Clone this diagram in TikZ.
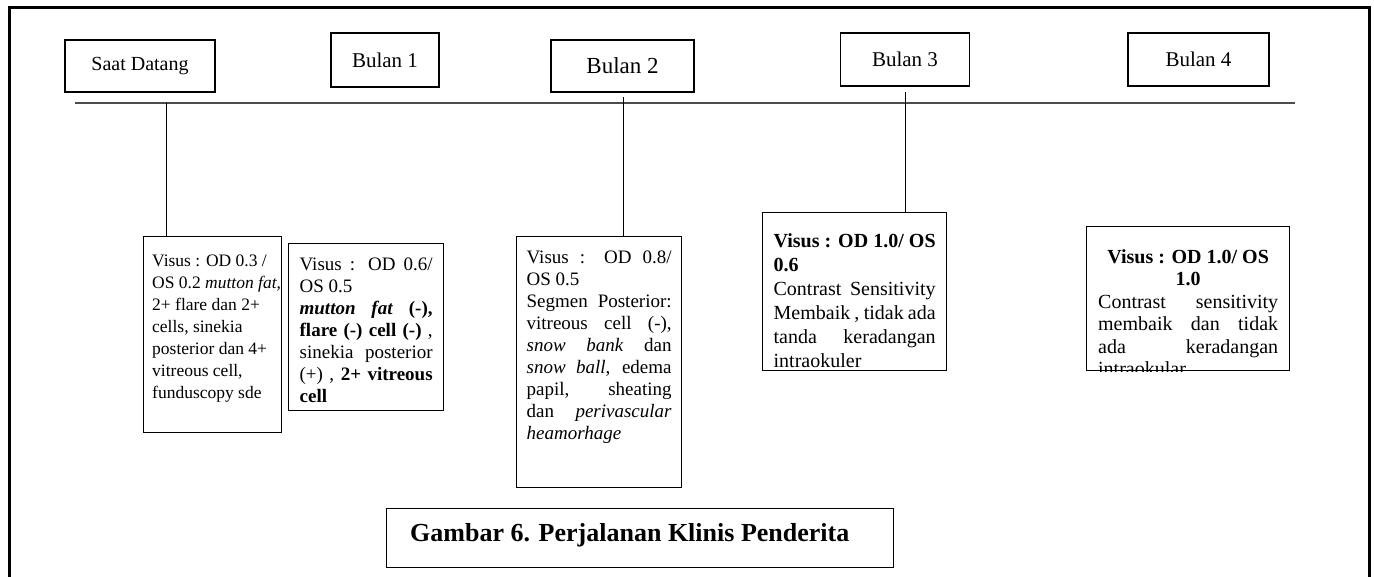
\documentclass[tikz,border=0pt]{standalone}
\usepackage{fontspec}
\setmainfont{Liberation Serif}
\usetikzlibrary{positioning,calc}

\begin{document}
\begin{tikzpicture}[
    x=1pt, y=-1pt,
    period/.style={
        draw,
        line width=1.3pt,
        inner sep=0pt,
        align=center,
        font=\fontsize{21}{24}\selectfont
    },
    note/.style={
        draw,
        line width=1.3pt,
        anchor=north west,
        inner sep=0pt
    },
    notetext/.style={
        anchor=north,
        align=justify,
        inner sep=0pt,
        font=\fontsize{19}{22}\selectfont
    },
    axis/.style={line width=1.3pt, black!70},
    stem/.style={line width=0.9pt}
]

\useasboundingbox (0,0) rectangle (1374,577);

% ------------------------------------------------
% Frame
% ------------------------------------------------

\draw[line width=3pt] (9,577) -- (9,8) -- (1369,8) -- (1369,577);

% ------------------------------------------------
% Time points
% ------------------------------------------------

\node[period, minimum width=150, minimum height=52,
      font=\fontsize{20}{24}\selectfont] (sd) at (140, 66)
    {Saat Datang};
\node[period, minimum width=108, minimum height=54] (b1) at (385, 60)
    {Bulan 1};
\node[period, minimum width=143, minimum height=52,
      font=\fontsize{23}{26}\selectfont] (b2) at (622.5, 66)
    {Bulan 2};
\node[period, minimum width=129, minimum height=53] (b3) at (905, 59.5)
    {Bulan 3};
\node[period, minimum width=141, minimum height=53] (b4) at (1198.5, 59.5)
    {Bulan 4};

\coordinate (tl-start) at (75, 103);
\coordinate (tl-end) at (1295, 103);
\draw[axis] (tl-start) -- (tl-end);

% ------------------------------------------------
% Findings
% ------------------------------------------------

\node[note, minimum width=138, minimum height=196] (c1) at (143, 236) {};
\node[notetext, anchor=north west, align=left,
      font=\fontsize{17.5}{22}\selectfont]
    (t1) at ([xshift=9pt, yshift=-19pt]c1.north west)
    {Visus : OD 0.3 /\\
     OS 0.2 \textit{mutton fat,}\\
     2+ flare dan 2+\\
     cells, sinekia\\
     posterior dan 4+\\
     vitreous cell,\\
     funduscopy sde};

\node[note, minimum width=155, minimum height=167] (c2) at (288, 243) {};
\node[notetext, text width=133, yshift=-15pt] (t2) at (c2.north)
    {Visus : OD 0.6/\linebreak
     OS 0.5\\
     \textbf{\textit{mutton fat} (-),}\linebreak
     \textbf{flare (-) cell (-)} ,\linebreak
     sinekia posterior\linebreak
     (+) , \textbf{2+ vitreous}\linebreak
     \textbf{cell}};

\node[note, minimum width=165, minimum height=251] (c3) at (516, 236) {};
\node[notetext, text width=145, yshift=-15pt] (t3) at (c3.north)
    {Visus : OD 0.8/\linebreak
     OS 0.5\\
     Segmen Posterior:\linebreak
     vitreous cell (-),\linebreak
     \textit{snow bank} dan\linebreak
     \textit{snow ball}, edema\linebreak
     papil, sheating\linebreak
     dan \textit{perivascular}\linebreak
     \textit{heamorhage}};

\node[note, minimum width=184, minimum height=158] (c4) at (762, 212) {};
\begin{scope}
    \clip (c4.south west) rectangle (c4.north east);
    \node[notetext, text width=162, yshift=-21pt,
          font=\fontsize{20}{24}\selectfont] (t4) at (c4.north)
        {\textbf{Visus : OD 1.0/ OS}\linebreak
         \textbf{0.6}\\
         Contrast Sensitivity\linebreak
         Membaik , tidak ada\linebreak
         tanda keradangan\linebreak
         intraokuler};
\end{scope}

\node[note, minimum width=203, minimum height=144] (c5) at (1086, 226) {};
\begin{scope}
    \clip (c5.south west) rectangle (c5.north east);
    \node[notetext, text width=180, yshift=-23pt,
          font=\fontsize{20}{22.5}\selectfont] (t5) at (c5.north)
        {\hspace*{\fill}\textbf{Visus : OD 1.0/ OS}\hspace*{\fill}\\
         \hspace*{\fill}\textbf{1.0}\hspace*{\fill}\\
         Contrast sensitivity\linebreak
         membaik dan tidak\linebreak
         ada keradangan\linebreak
         intraokular};
\end{scope}

% ------------------------------------------------
% Connections
% ------------------------------------------------

\coordinate (tl-sd) at (166, 103);
\coordinate (tl-b2) at (623, 97);

\draw[stem] (tl-sd) -- (tl-sd |- c1.north);
\draw[stem] (tl-b2) -- (tl-b2 |- c3.north);
\draw[stem] ([yshift=-5pt]b3.south) -- (b3.south |- c4.north);

% ------------------------------------------------
% Caption
% ------------------------------------------------

\node[note, minimum width=507, minimum height=59] (capbox) at (386, 508) {};
\node[anchor=west, inner sep=0pt, font=\fontsize{26}{30}\selectfont\bfseries]
    (caption) at ([xshift=24pt, yshift=3pt]capbox.west)
    {Gambar 6. Perjalanan Klinis Penderita};

\end{tikzpicture}
\end{document}
